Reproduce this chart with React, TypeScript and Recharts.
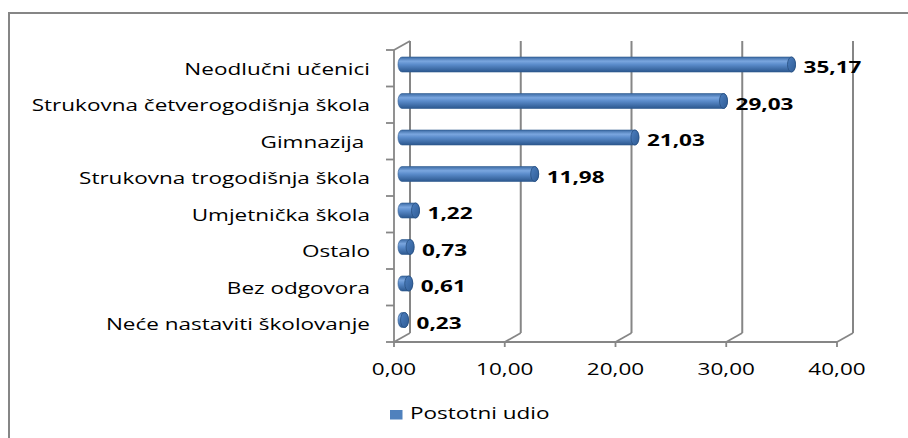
import React from 'react';
import { BarChart, Bar, XAxis, YAxis, CartesianGrid, LabelList, Legend } from 'recharts';

const categories = [
  'Neodlučni učenici',
  'Strukovna četverogodišnja škola',
  'Gimnazija ',
  'Strukovna trogodišnja škola',
  'Umjetnička škola',
  'Ostalo',
  'Bez odgovora',
  'Neće nastaviti školovanje',
];
const values = [35.17, 29.03, 21.03, 11.98, 1.22, 0.73, 0.61, 0.23];
const xTicks = [0, 10, 20, 30, 40];
const seriesName = 'Postotni udio';

const data = categories.map((name, i) => ({ name, value: values[i] }));

const W = 908;
const H = 438;
const PLOT_LEFT = 394;
const PLOT_RIGHT = 837;
const PLOT_TOP = 50;
const PLOT_BOTTOM = 342;
const Y_AXIS_W = 380;
const X_AXIS_H = 30;
const DEPTH_X = 16;
const DEPTH_Y = 9;
const BAR_LIFT = 4;
const LABEL_GAP = 24;
const BAND = (PLOT_BOTTOM - PLOT_TOP) / categories.length;
const FONT = '"Open Sans", sans-serif';
const FS = 16.8;
const SX = 1.34;
const GRID = '#868686';
const BLUE = '#4F81BD';

const fmt = (v: number) => v.toFixed(2).replace('.', ',');

const StretchText = ({ x, y, anchor, children, bold }: any) => (
  <g transform={`translate(${x},${y})`}>
    <text
      transform={`scale(${SX},1)`}
      textAnchor={anchor}
      fontFamily={FONT}
      fontSize={FS}
      fontWeight={bold ? 700 : 500}
      fill="#000"
      style={{ whiteSpace: 'pre' }}
    >
      {children}
    </text>
  </g>
);

const YTick = (p: any) => {
  const { x, y, payload, index } = p;
  const ax = x + LABEL_GAP;
  const last = index === categories.length - 1;
  return (
    <g>
      <line x1={ax - 8} x2={ax} y1={y - BAND / 2} y2={y - BAND / 2} stroke={GRID} strokeWidth={1.8} />
      {last && <line x1={ax - 8} x2={ax} y1={y + BAND / 2} y2={y + BAND / 2} stroke={GRID} strokeWidth={1.8} />}
      <StretchText x={x} y={y + 6.5} anchor="end">{payload.value}</StretchText>
    </g>
  );
};

const XTick = (p: any) => {
  const { x, y, payload } = p;
  return <StretchText x={x} y={y + 26} anchor="middle">{fmt(payload.value)}</StretchText>;
};

const gridLine = (p: any) => {
  const { x1, y1, y2, index } = p;
  const top = Math.min(y1, y2);
  const bot = Math.max(y1, y2);
  return (
    <g key={`g${index}-${x1}`}>
      <line x1={x1 + DEPTH_X} x2={x1 + DEPTH_X} y1={top - DEPTH_Y} y2={bot - DEPTH_Y} stroke={GRID} strokeWidth={2} />
      <line x1={x1} x2={x1 + DEPTH_X} y1={bot} y2={bot - DEPTH_Y} stroke={GRID} strokeWidth={1.8} />
      {Math.abs(x1 - PLOT_LEFT) < 1 && (
        <line x1={x1} x2={x1 + DEPTH_X} y1={top} y2={top - DEPTH_Y} stroke={GRID} strokeWidth={1.8} />
      )}
    </g>
  );
};

const Cylinder = (p: any) => {
  const { x, y, width, height } = p;
  const x0 = x + DEPTH_X / 2;
  const y0 = y - BAR_LIFT;
  const x1 = x0 + Math.max(width, 0);
  const ry = height / 2;
  const rx = 4;
  const d = `M${x0},${y0} L${x1},${y0} A${rx},${ry} 0 0 1 ${x1},${y0 + height} L${x0},${y0 + height} A${rx},${ry} 0 0 1 ${x0},${y0} Z`;
  return (
    <g>
      <path d={d} fill="url(#cylBody)" stroke="#2f5b8f" strokeWidth={0.6} />
      <ellipse cx={x1} cy={y0 + ry} rx={rx} ry={ry} fill="url(#cylCap)" stroke="#274f80" strokeWidth={0.8} />
    </g>
  );
};

const ValueLabel = (p: any) => {
  const { x, y, width, height, value } = p;
  return (
    <StretchText x={x + width + 20} y={y + height / 2 + 4.75} anchor="start" bold>
      {fmt(Number(value))}
    </StretchText>
  );
};

const LegendContent = () => (
  <svg width={220} height={30} style={{ display: 'block' }}>
    <rect x={10} y={10} width={12.5} height={9.5} fill={BLUE} />
    <StretchText x={30} y={19} anchor="start">{seriesName}</StretchText>
  </svg>
);

export default function App() {
  return (
    <div style={{ position: 'absolute', left: 0, top: 0, width: W, height: H, overflow: 'hidden', background: '#fff' }}>
      <div
        style={{
          position: 'absolute',
          left: 8,
          top: 12,
          width: 1000,
          height: 1000,
          border: '2px solid #868686',
          boxSizing: 'border-box',
        }}
      />
      <div style={{ position: 'absolute', left: 0, top: 0 }}>
        <BarChart
          width={W}
          height={H}
          data={data}
          layout="vertical"
          barSize={15}
          margin={{
            top: PLOT_TOP,
            right: W - PLOT_RIGHT,
            bottom: H - PLOT_BOTTOM - X_AXIS_H,
            left: PLOT_LEFT - Y_AXIS_W,
          }}
        >
          <defs>
            <linearGradient id="cylBody" x1="0" y1="0" x2="0" y2="1">
              <stop offset="0%" stopColor="#3a69a3" />
              <stop offset="28%" stopColor="#7aa6df" />
              <stop offset="50%" stopColor="#5b8ccb" />
              <stop offset="100%" stopColor="#2b578e" />
            </linearGradient>
            <linearGradient id="cylCap" x1="0" y1="0" x2="1" y2="1">
              <stop offset="0%" stopColor="#4d7fbf" />
              <stop offset="100%" stopColor="#2f5c95" />
            </linearGradient>
          </defs>
          <CartesianGrid horizontal={false} vertical={gridLine} stroke={GRID} />
          <XAxis
            type="number"
            domain={[0, 40]}
            ticks={xTicks}
            height={X_AXIS_H}
            axisLine={{ stroke: GRID, strokeWidth: 1.8 }}
            tickLine={{ stroke: GRID, strokeWidth: 1.8 }}
            tickSize={5}
            tick={<XTick />}
            interval={0}
          />
          <YAxis
            type="category"
            dataKey="name"
            width={Y_AXIS_W}
            axisLine={{ stroke: GRID, strokeWidth: 1.8 }}
            tickLine={false}
            tickSize={0}
            tickMargin={LABEL_GAP}
            tick={<YTick />}
            interval={0}
          />
          <Bar dataKey="value" name={seriesName} fill={BLUE} shape={<Cylinder />} isAnimationActive={false}>
            <LabelList dataKey="value" content={<ValueLabel />} />
          </Bar>
          <Legend
            layout="horizontal"
            verticalAlign="middle"
            align="center"
            wrapperStyle={{ left: 380, top: 400, width: 220, height: 30 }}
            content={<LegendContent />}
          />
        </BarChart>
      </div>
    </div>
  );
}
